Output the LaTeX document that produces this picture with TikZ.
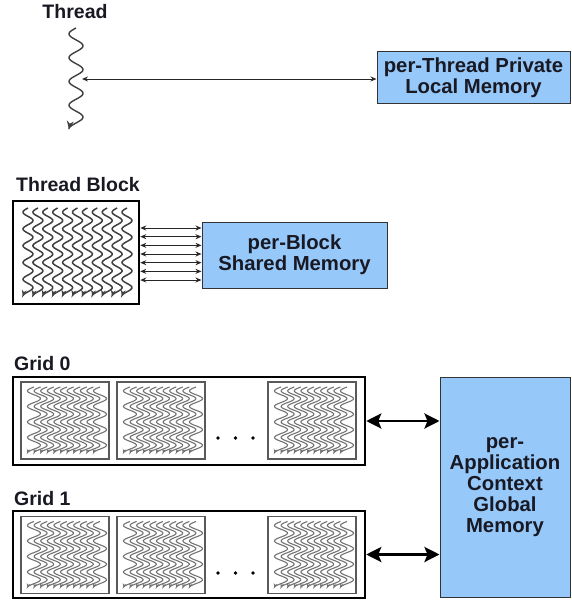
\documentclass[tikz,border=0pt]{standalone}
\usepackage{fontspec}
\setmainfont{Liberation Sans}
\usetikzlibrary{arrows.meta}
\definecolor{memblue}{RGB}{150,200,250}
\definecolor{inkdark}{RGB}{25,25,35}

% a row of wavy threads running downwards:
% #1 x of first thread, #2 spacing, #3 last index, #4 top y, #5 bottom y,
% #6 amplitude, #7 period, #8 draw style
\newcommand\threadcols[8]{%
  \foreach \i in {0,...,#3}{%
    \draw[#8] plot[domain=#4:#5, samples=90, smooth]
      ({#1+\i*#2 - #6*sin((\x-(#4))*(360/#7))}, \x);
  }}

% threads inside one block of a grid, given the block's left and top
\newcommand\gridthreads[2]{%
  \threadcols{#1+13}{6.6}{10}{#2+5}{#2+71}{6.5}{15.53}{gthread}}

\begin{document}
\begin{tikzpicture}[x=1pt, y=-1pt,
  lbl/.style={font=\bfseries\fontsize{19.5}{21}\selectfont, text=inkdark, inner sep=0pt},
  membox/.style={draw=black!80, line width=1pt, fill=memblue, align=center,
    font=\bfseries\fontsize{20.3}{21}\selectfont, text=inkdark, inner sep=0pt},
  gridbox/.style={draw=black, line width=2.5pt, minimum width=352pt, inner sep=0pt},
  gblock/.style={draw=black!65, line width=1.8pt, minimum width=88pt, minimum height=77pt, inner sep=0pt},
  tthread/.style={draw=black!75, line width=1.5pt, -{Stealth[length=6pt,width=5pt]}},
  gthread/.style={draw=black!55, line width=1.1pt, -{Stealth[length=4pt,width=3.6pt]}},
  thin arrow/.style={draw=black!85, line width=1pt,
    {Stealth[length=6pt,width=5pt]}-{Stealth[length=6pt,width=5pt]}},
  thick arrow/.style={draw=black, line width=2.8pt,
    {Stealth[length=15pt,width=15pt,inset=3pt]}-{Stealth[length=15pt,width=15pt,inset=3pt]}},
  dot/.style={fill=black}]

\useasboundingbox[fill=white] (0,0) rectangle (572,602);

% ---------- single thread ----------
\node[lbl] (lthread) at (75,12) {Thread};
\threadcols{76}{0}{0}{28}{129}{7}{23.76}{tthread, line width=1.4pt, -{Stealth[length=8pt,width=7pt]}}
\coordinate (tap) at (82,79);
\node[membox, minimum width=193pt, minimum height=51pt] (ptm) at (473.5,77.5)
  {per-Thread Private\\Local Memory};
\draw[thin arrow] (tap) -- (tap -| ptm.west);

% ---------- thread block ----------
\node[lbl, anchor=west] (lblock) at (16,185) {Thread Block};
\node[draw=black, line width=2.5pt, minimum width=126pt, minimum height=103pt, inner sep=0pt]
  (tb) at (76,252.5) {};
\threadcols{28}{9.9}{10}{208}{296}{5}{16.76}{tthread}
\node[membox, minimum width=185pt, minimum height=66pt] (pbm) at (294.5,255)
  {per-Block\\Shared Memory};
\foreach \k in {0,...,6}{
  \path ([yshift={24.5pt-\k*8.67pt}]tb.east) coordinate (s\k);
  \draw[thin arrow] (s\k) -- (s\k -| pbm.west);
}

% ---------- grids ----------
\node[lbl, anchor=west] (lgrid0) at (14,364) {Grid 0};
\node[gridbox, minimum height=88pt] (g0) at (189,421) {};
\node[gblock] (g0a) at (65,420.5) {};
\node[gblock] (g0b) at (161,420.5) {};
\node[gblock] (g0c) at (312,420.5) {};
\gridthreads{21}{382}
\gridthreads{117}{382}
\gridthreads{268}{382}
\foreach \xx in {218,235.5,253} \fill[dot] (\xx,438) circle (1.9pt);

\node[lbl, anchor=west] (lgrid1) at (14,499) {Grid 1};
\node[gridbox, minimum height=87pt] (g1) at (189,554.5) {};
\node[gblock] (g1a) at (65,555) {};
\node[gblock] (g1b) at (161,555) {};
\node[gblock] (g1c) at (312,555) {};
\gridthreads{21}{516.5}
\gridthreads{117}{516.5}
\gridthreads{268}{516.5}
\foreach \xx in {218,235.5,253} \fill[dot] (\xx,573) circle (1.9pt);

% ---------- global memory ----------
\node[membox, minimum width=130pt, minimum height=220pt] (gm) at (505,487)
  {per-\\Application\\Context\\Global\\Memory};
\draw[thick arrow] (g0.east) -- (g0.east -| gm.west);
\draw[thick arrow] (g1.east) -- (g1.east -| gm.west);
\end{tikzpicture}
\end{document}
